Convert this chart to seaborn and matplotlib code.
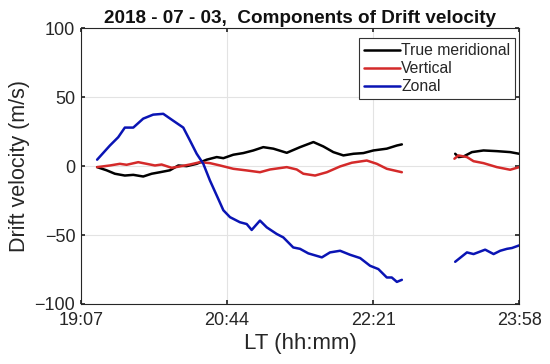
import numpy as np
import pandas as pd
import matplotlib
matplotlib.use("Agg")
import matplotlib.pyplot as plt
import seaborn as sns

# minutes after 19:07 LT; gap between ~22:40 and ~23:15
t_mer_1 = [10.8, 17.1, 22.6, 29.2, 34.8, 41.4, 47, 52.5, 59.1, 64.7, 70.2, 76.9, 83.5, 90.2, 94.6, 101.2,
           107.8, 114.5, 121.1, 127.8, 136.7, 145.5, 154.4, 161, 167.6, 174.3, 181, 187.6, 194.2, 203.1, 209.8, 213.1]
v_mer_1 = [-0.7, -3, -5.5, -6.8, -6.3, -7.5, -5.5, -4.4, -3, 0.5, 0, 1.7, 4.7, 6.6, 5.8, 8.3,
           9.5, 11.4, 13.8, 12.7, 9.7, 13.8, 17.5, 14.3, 10.2, 7.8, 9, 9.5, 11.4, 12.7, 15, 15.8]
t_mer_2 = [248.5, 250.7, 254, 259.6, 267.3, 276.2, 285, 291]
v_mer_2 = [9, 6.6, 7, 10.2, 11.4, 10.9, 10.2, 9]

t_ver_1 = [10.8, 19.3, 25.9, 30.4, 38.1, 43.7, 49.2, 53.6, 60.3, 65.8, 72.4, 79.1, 85.7, 92.4, 101.2,
           110.1, 118.9, 125.6, 136.7, 143.3, 147.7, 155.5, 163.3, 172.1, 179.9, 189.8, 196.5, 203.1, 213.1]
v_ver_1 = [-0.7, 0.5, 1.7, 1, 2.9, 1.7, 0.5, 1.2, -1.2, -0.2, 1.2, 2.9, 2.2, 0.5, -1.9,
           -3.1, -4.4, -2.4, -0.7, -2.4, -5.5, -6.8, -4.4, -0.2, 2.5, 4.1, 1.7, -1.9, -4.4]
t_ver_2 = [248, 250.7, 256.3, 260.7, 267.3, 276.2, 285, 291]
v_ver_2 = [5.4, 7.8, 6.6, 3.6, 2.2, -0.7, -2.6, -0.7]

t_zon_1 = [10.8, 19.3, 24.8, 29.2, 34.8, 41.4, 48, 54.7, 61.3, 68, 72.4, 76.9, 81.3, 85.7, 91.2, 94.6, 99,
           105.6, 110.1, 113.4, 118.9, 123.4, 130, 134.4, 141, 145.5, 151, 160, 165.4, 172.1, 178.7, 185.4,
           192, 197.5, 203.1, 206.4, 209.8, 213.1]
v_zon_1 = [4.7, 15, 21, 28, 28, 34.5, 37.4, 38, 33, 28, 18.7, 9, 1.7, -10.4, -23.7, -32, -37,
           -40.7, -42, -46.3, -39.5, -44.4, -49.2, -51.7, -59, -60, -63.3, -66.2, -62.6, -61.4, -64.3, -66.7,
           -72.3, -74.7, -80.8, -80.8, -84, -82.5]
t_zon_2 = [248.5, 256.3, 260.7, 268.4, 274, 278.4, 282.9, 286.2, 291]
v_zon_2 = [-69.4, -62.6, -63.8, -60.6, -63.8, -61.4, -60, -59.4, -57.5]

x_ticks = [0, 97, 194, 291]
x_labels = ['19:07', '20:44', '22:21', '23:58']
y_ticks = [-100, -50, 0, 50, 100]

rows = []
for comp, segs in [('True meridional', [(t_mer_1, v_mer_1), (t_mer_2, v_mer_2)]),
                   ('Vertical', [(t_ver_1, v_ver_1), (t_ver_2, v_ver_2)]),
                   ('Zonal', [(t_zon_1, v_zon_1), (t_zon_2, v_zon_2)])]:
    for i, (tt, vv) in enumerate(segs):
        for a, b in zip(tt, vv):
            rows.append({'t': a, 'v': b, 'comp': comp, 'seg': i})
df = pd.DataFrame(rows)

sns.set_theme(style='ticks')
plt.rcParams['font.family'] = ['Liberation Sans', 'DejaVu Sans']

fig = plt.figure(figsize=(5.5, 3.64), dpi=100)
ax = fig.add_axes([0.147, 0.165, 0.797, 0.757])

pal = {'True meridional': '#000000', 'Vertical': '#d42a2a', 'Zonal': '#0a14b4'}
sns.lineplot(data=df, x='t', y='v', hue='comp', units='seg', estimator=None, sort=False,
             palette=pal, linewidth=1.8, ax=ax)

ax.set_xlim(0, 291)
ax.set_ylim(-100, 100)
ax.set_xticks(x_ticks)
ax.set_xticklabels(x_labels)
ax.set_yticks(y_ticks)
ax.grid(True, color='#e3e3e3', linewidth=0.8)
ax.tick_params(direction='in', top=True, right=True, length=3, labelsize=13,
               colors='#262626')
ax.tick_params(axis='x', pad=6)
ax.tick_params(axis='y', pad=4)
for s in ax.spines.values():
    s.set_color('#262626')
    s.set_linewidth(0.8)

ax.set_xlabel('LT (hh:mm)', fontsize=16, color='#262626', labelpad=3)
ax.set_ylabel('Drift velocity (m/s)', fontsize=15.5, color='#262626', labelpad=3)
ax.set_title('2018 - 07 - 03,  Components of Drift velocity', fontsize=13.6,
             fontweight='bold', color='#111111', pad=4)

leg = ax.legend(loc='upper right', bbox_to_anchor=(0.991, 0.964), borderaxespad=0,
                fontsize=11.3, handlelength=2.3, handletextpad=0.1, labelspacing=0.2,
                borderpad=0.3, fancybox=False, framealpha=1, edgecolor='#333333')
leg.get_frame().set_linewidth(0.8)
for h in leg.get_lines():
    h.set_linewidth(1.8)

fig.savefig('out.png', dpi=100)
